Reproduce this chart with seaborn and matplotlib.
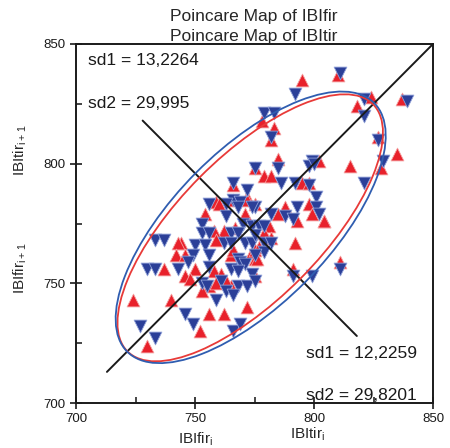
import numpy as np
import pandas as pd
import matplotlib
matplotlib.use("Agg")
import matplotlib.pyplot as plt
from matplotlib.patches import Ellipse
from matplotlib.ticker import MultipleLocator
import seaborn as sns

# ---- data ----
red_x = [795, 810, 824, 818, 837, 778, 783, 782, 827, 835, 785, 802, 828, 815, 775, 779, 782, 795, 798,
         766, 772, 766, 772, 775, 788, 798, 804, 759, 760, 754, 771, 762, 758, 767, 759, 744, 743, 742,
         746, 765, 766, 774, 737, 750, 746, 758, 761, 756, 759, 765, 763, 753, 724, 740, 772, 756, 762,
         752, 730, 792, 811, 791, 775, 785, 793, 804, 781, 779, 782, 775, 777, 776, 775, 799, 748]
red_y = [835, 837, 828, 824, 827, 818, 815, 810, 811, 804, 802, 801, 798, 799, 798, 795, 795, 792, 792,
         791, 786, 785, 785, 783, 782, 783, 776, 784, 783, 779, 779, 772, 772, 773, 768, 767, 767, 762,
         762, 762, 764, 763, 756, 756, 753, 755, 754, 749, 750, 749, 751, 747, 743, 743, 740, 737, 737,
         730, 724, 767, 759, 756, 760, 779, 776, 776, 774, 771, 769, 764, 765, 760, 753, 779, 752]

blue_x = [811, 792, 821, 839, 821, 779, 783, 782, 827, 785, 799, 798, 800, 829, 821, 775, 786, 792, 798,
          766, 772, 801, 766, 769, 775, 793, 801, 782, 802, 756, 763, 768, 774, 753, 763, 770, 774, 753,
          756, 765, 768, 762, 765, 771, 774, 733, 737, 750, 754, 749, 756, 768, 769, 771, 747, 730, 733,
          743, 756, 765, 768, 774, 811, 791, 799, 753, 755, 768, 772, 761, 763, 759, 766, 746, 749, 727,
          733, 766, 769, 788, 791, 777, 779, 779, 782, 775, 779, 775, 775]
blue_y = [838, 829, 827, 826, 820, 821, 821, 811, 810, 798, 801, 799, 800, 801, 792, 798, 792, 792, 791,
          792, 789, 786, 785, 784, 782, 782, 782, 779, 779, 783, 783, 782, 782, 775, 778, 775, 774, 771,
          771, 771, 771, 767, 767, 767, 767, 768, 768, 766, 766, 762, 762, 760, 759, 758, 759, 756, 756,
          756, 757, 756, 755, 754, 756, 753, 753, 750, 749, 749, 749, 751, 747, 743, 745, 737, 733, 732,
          727, 730, 733, 778, 777, 774, 774, 767, 767, 770, 763, 762, 751]

series_names = ["IBIfir", "IBItir"]
sd1_vals = [12.2259, 13.2264]   # red, blue
sd2_vals = [29.8201, 29.995]
centers = [773.2, 773.4]
x_ticks = [700, 750, 800, 850]

red = pd.DataFrame({"x": red_x, "y": red_y})
blue = pd.DataFrame({"x": blue_x, "y": blue_y})

sns.set_style("ticks")
plt.rcParams["font.family"] = ["Liberation Sans", "DejaVu Sans"]
plt.rcParams["mathtext.fontset"] = "custom"
plt.rcParams["mathtext.rm"] = "Liberation Sans"

RED = "#e8212b"
BLUE = "#2b3f98"
ERED = "#e83a38"
EBLUE = "#2f5db0"

fig = plt.figure(figsize=(4.5, 4.48), dpi=100)
ax = fig.add_axes([76 / 450, 1 - 403 / 448, (433 - 76) / 450, (403 - 44) / 448])

sns.scatterplot(data=red, x="x", y="y", marker="^", s=85, color=RED,
                edgecolor="#f4a0a0", linewidth=0.6, ax=ax, zorder=3)
sns.scatterplot(data=blue, x="x", y="y", marker="v", s=85, color=BLUE,
                edgecolor="#8fa0d8", linewidth=0.6, ax=ax, zorder=3)

# identity line and perpendicular line
ax.plot([713, 850], [713, 850], color="#1a1a1a", lw=1.4, zorder=4)
ax.plot([728, 818], [818, 728], color="#1a1a1a", lw=1.4, zorder=4)

k = 2.4477
for c, s1, s2, col in zip(centers, sd1_vals, sd2_vals, [ERED, EBLUE]):
    e = Ellipse((c, c), width=2 * k * s2, height=2 * k * s1, angle=45,
                fill=False, edgecolor=col, lw=1.3, zorder=5)
    ax.add_patch(e)

ax.set_xlim(700, 850)
ax.set_ylim(700, 850)
ax.set_xticks(x_ticks)
ax.set_yticks(x_ticks)
ax.xaxis.set_minor_locator(MultipleLocator(25))
ax.yaxis.set_minor_locator(MultipleLocator(25))
ax.tick_params(which="major", direction="inout", length=8, width=1.2, labelsize=9.5, colors="#1a1a1a")
ax.tick_params(which="minor", direction="in", length=4, width=1.2)
for sp in ax.spines.values():
    sp.set_linewidth(1.4)
    sp.set_color("#1a1a1a")
ax.set_xlabel("")
ax.set_ylabel("")

txt = dict(fontsize=12.5, color="#1a1a1a", va="center", ha="left", zorder=6)
ax.text(705.2, 843.0, "sd1 = 13,2264", **txt)
ax.text(705.2, 825.3, "sd2 = 29,995", **txt)
ax.text(796.6, 720.7, "sd1 = 12,2259", **txt)
ax.text(796.6, 703.3, "sd2 = 29,8201", **txt)

# titles (two overlaid graphs)
fig.text(254 / 450, 1 - 16 / 448, "Poincare Map of " + series_names[0], ha="center", va="center", fontsize=12.5)
fig.text(254 / 450, 1 - 36 / 448, "Poincare Map of " + series_names[1], ha="center", va="center", fontsize=12.5)

# axis labels
fig.text(196 / 450, 1 - 439 / 448, series_names[0] + r"$_\mathregular{i}$", ha="center", va="center", fontsize=11)
fig.text(308 / 450, 1 - 434 / 448, series_names[1] + r"$_\mathregular{i}$", ha="center", va="center", fontsize=11)
fig.text(20 / 450, 1 - 268 / 448, series_names[0] + r"$_\mathregular{i+1}$", ha="center", va="center",
         fontsize=11, rotation=90)
fig.text(20 / 450, 1 - 150 / 448, series_names[1] + r"$_\mathregular{i+1}$", ha="center", va="center",
         fontsize=11, rotation=90)

fig.savefig("out.png", dpi=100)
